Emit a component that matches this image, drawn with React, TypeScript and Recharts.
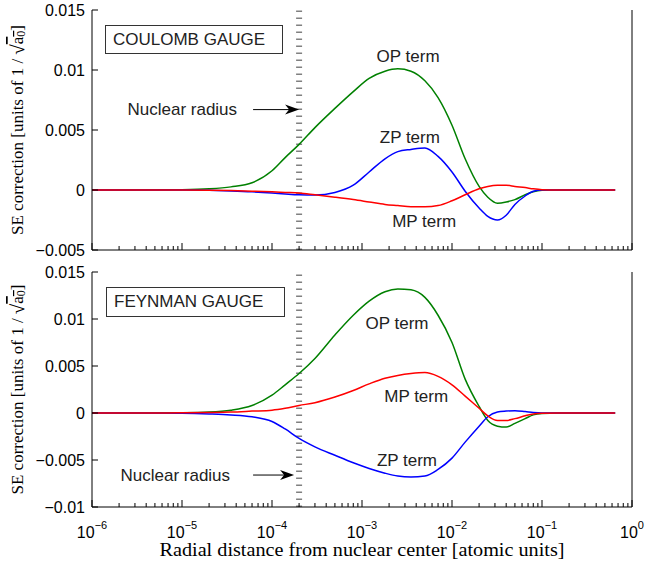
import React from 'react';
import { LineChart, Line, XAxis, YAxis, ReferenceLine, ReferenceDot } from 'recharts';

const FONT = '"Liberation Sans", Arial, Helvetica, sans-serif';
const SERIF = '"Liberation Serif", "Times New Roman", serif';

// radial distance in atomic units (shared grid for every curve)
const radius = [
  1e-6, 3e-6, 1e-5, 2e-5, 3.5e-5, 6e-5, 1e-4, 1.4e-4, 2e-4, 3e-4, 5e-4, 8e-4, 1.2e-3, 1.8e-3, 2.5e-3,
  3.5e-3, 5e-3, 7e-3, 1e-2, 1.4e-2, 2e-2, 2.5e-2, 3.2e-2, 4e-2, 5e-2, 6.5e-2, 8e-2, 0.1, 0.15, 0.3, 0.65,
];

// Coulomb gauge
const coulombOP = [
  0, 0, 0.00003, 0.0001, 0.00026, 0.0006, 0.0016, 0.0027, 0.0038, 0.0052, 0.0068, 0.0082, 0.0093, 0.0099, 0.0101,
  0.0099, 0.0091, 0.0077, 0.0054, 0.0026, 0.0003, -0.0006, -0.0011, -0.001, -0.0008, -0.0004, -0.00015, -0.00003, 0, 0, 0,
];
const coulombZP = [
  0, 0, 0, -0.00003, -0.00008, -0.00015, -0.00025, -0.00033, -0.0004, -0.00042, -0.0002, 0.0004, 0.0015, 0.0026, 0.0032,
  0.00338, 0.0035, 0.0028, 0.0015, -0.0001, -0.0015, -0.0022, -0.0025, -0.0021, -0.0012, -0.0005, -0.0001, 0, 0, 0, 0,
];
const coulombMP = [
  0, 0, 0, -0.00002, -0.00005, -0.0001, -0.00015, -0.0002, -0.00025, -0.0004, -0.0006, -0.0008, -0.001, -0.0012, -0.0013,
  -0.0014, -0.0014, -0.0013, -0.0009, -0.0004, 0.0001, 0.0003, 0.0004, 0.0004, 0.0003, 0.0002, 0.0001, 0.00003, 0, 0, 0,
];

// Feynman gauge
const feynmanOP = [
  0, 0, 0.00003, 0.0001, 0.0003, 0.0008, 0.0019, 0.003, 0.0042, 0.0058, 0.0083, 0.0104, 0.0119, 0.0129, 0.0132,
  0.0131, 0.0123, 0.0104, 0.0075, 0.0036, 0.0007, -0.0008, -0.0014, -0.0015, -0.0011, -0.0006, -0.0002, -0.00005, 0, 0, 0,
];
const feynmanZP = [
  0, 0, -0.00003, -0.0001, -0.0002, -0.0004, -0.0009, -0.0017, -0.0027, -0.0036, -0.0045, -0.0053, -0.0059, -0.0064, -0.0067,
  -0.0068, -0.0067, -0.006, -0.0048, -0.0031, -0.0014, -0.0004, 0.0001, 0.0002, 0.00025, 0.00015, 0.00005, 0, 0, 0, 0,
];
const feynmanMP = [
  0, 0, 0.00002, 0.00005, 0.0001, 0.0002, 0.0003, 0.0005, 0.0008, 0.0011, 0.0017, 0.0024, 0.0031, 0.0037, 0.004,
  0.0042, 0.0043, 0.0039, 0.003, 0.0018, 0.0005, -0.0003, -0.0008, -0.0008, -0.0006, -0.0003, -0.0001, -0.00003, 0, 0, 0,
];

const nuclearRadius = 2e-4;

const decades = [1e-6, 1e-5, 1e-4, 1e-3, 1e-2, 1e-1, 1];
const decadeExps = ['−6', '−5', '−4', '−3', '−2', '−1', '0'];
const minorTicks = decades.slice(0, -1).flatMap((d) => [2, 3, 4, 5, 6, 7, 8, 9].map((m) => m * d));
const xTicks = [...decades, ...minorTicks];

const coulombYTicks = [-0.005, 0, 0.005, 0.01, 0.015];
const coulombYLabels = ['−0.005', '0', '0.005', '0.01', '0.015'];
const feynmanYTicks = [-0.01, -0.005, 0, 0.005, 0.01, 0.015];
const feynmanYLabels = ['−0.01', '−0.005', '0', '0.005', '0.01', '0.015'];

const decadeIndex = (v: number) => decades.findIndex((d) => Math.abs(v / d - 1) < 1e-6);

function XTick(props: any) {
  const { x, y, payload, showLabel, top } = props;
  const idx = decadeIndex(payload.value);
  const len = idx >= 0 ? 7 : 4;
  return (
    <g>
      <line x1={x} x2={x} y1={y} y2={top ? y + len : y - len} stroke="#000" />
      {showLabel && idx >= 0 && (
        <text x={x} y={y + 31} textAnchor="middle" fontFamily={FONT} fontSize={16} fill="#000">
          10
          <tspan dy={-9} fontSize={11}>
            {decadeExps[idx]}
          </tspan>
        </text>
      )}
    </g>
  );
}

function YTick(props: any) {
  const { x, y, payload, labels, ticks, right } = props;
  const i = ticks.indexOf(payload.value);
  return (
    <g>
      <line x1={x} x2={right ? x - 6 : x + 6} y1={y} y2={y} stroke="#000" />
      {!right && (
        <text x={x - 7} y={y} textAnchor="end" dominantBaseline="central" fontFamily={FONT} fontSize={16} fill="#000">
          {labels[i]}
        </text>
      )}
    </g>
  );
}

const yLabel = (p: any) => {
  const vb = p.viewBox;
  const cx = vb.x + 17;
  const cy = vb.y + vb.height / 2;
  return (
    <text x={cx} y={cy} transform={`rotate(-90 ${cx} ${cy})`} textAnchor="middle" dominantBaseline="central"
      fontFamily={SERIF} fontSize={17} fill="#000">
      SE correction [units of 1 / <tspan fontSize={19}>√</tspan>
      <tspan style={{ textDecoration: 'overline' }}>
        a<tspan dy={4} fontSize={12}>0</tspan>
      </tspan>
      <tspan dy={-4}>]</tspan>
    </text>
  );
};

const xLabel = (p: any) => {
  const vb = p.viewBox;
  return (
    <text x={vb.x + vb.width / 2} y={vb.y + 49} textAnchor="middle" fontFamily={SERIF} fontSize={18}
      textLength={405} lengthAdjust="spacingAndGlyphs" fill="#000">
      Radial distance from nuclear center [atomic units]
    </text>
  );
};

const termText = (text: string) => (p: any) => (
  <text x={p.cx} y={p.cy} textAnchor="middle" dominantBaseline="central" fontFamily={FONT} fontSize={17} fill="#222">
    {text}
  </text>
);

const radiusArrow = (textGap: number, tipGap: number) => (p: any) => (
  <g>
    <text x={p.cx - textGap} y={p.cy} textAnchor="end" dominantBaseline="central" fontFamily={FONT} fontSize={17} fill="#222">
      Nuclear radius
    </text>
    <line x1={p.cx - 46} x2={p.cx - tipGap - 8} y1={p.cy} y2={p.cy} stroke="#000" strokeWidth={1} />
    <polygon
      points={`${p.cx - tipGap},${p.cy} ${p.cx - tipGap - 14},${p.cy - 5} ${p.cx - tipGap - 10},${p.cy} ${p.cx - tipGap - 14},${p.cy + 5}`}
      fill="#000"
    />
  </g>
);

interface TermLabel {
  text: string;
  r: number;
  v: number;
}

interface PanelProps {
  op: number[];
  zp: number[];
  mp: number[];
  yDomain: [number, number];
  yTicks: number[];
  yLabels: string[];
  height: number;
  bottomAxisHeight: number;
  showXLabels: boolean;
  terms: TermLabel[];
  arrowV: number;
  arrowTextGap: number;
  arrowTipGap: number;
}

function GaugePanel(props: PanelProps) {
  const { op, zp, mp, yDomain, yTicks, yLabels, height, bottomAxisHeight, showXLabels, terms } = props;
  const data = radius.map((r, i) => ({ r, op: op[i], zp: zp[i], mp: mp[i] }));
  return (
    <LineChart width={648} height={height} data={data} margin={{ top: 10, right: 0, bottom: 0, left: 0 }}>
      <XAxis
        xAxisId="b"
        dataKey="r"
        type="number"
        scale="log"
        domain={[1e-6, 1]}
        allowDataOverflow
        ticks={xTicks}
        interval={0}
        height={bottomAxisHeight}
        tickSize={0}
        tickMargin={0}
        tickLine={false}
        axisLine={{ stroke: '#000' }}
        tick={(p: any) => <XTick {...p} showLabel={showXLabels} />}
        label={showXLabels ? xLabel : undefined}
      />
      <XAxis
        xAxisId="t"
        orientation="top"
        dataKey="r"
        type="number"
        scale="log"
        domain={[1e-6, 1]}
        allowDataOverflow
        ticks={xTicks}
        interval={0}
        height={0}
        tickSize={0}
        tickMargin={0}
        tickLine={false}
        axisLine={{ stroke: '#000' }}
        tick={(p: any) => <XTick {...p} top />}
      />
      <YAxis
        yAxisId="l"
        type="number"
        domain={yDomain}
        ticks={yTicks}
        interval={0}
        width={92}
        tickSize={0}
        tickMargin={0}
        tickLine={false}
        axisLine={{ stroke: '#000' }}
        tick={(p: any) => <YTick {...p} ticks={yTicks} labels={yLabels} />}
        label={yLabel}
      />
      <YAxis
        yAxisId="r"
        orientation="right"
        type="number"
        domain={yDomain}
        ticks={yTicks}
        interval={0}
        width={16}
        tickSize={0}
        tickMargin={0}
        tickLine={false}
        axisLine={{ stroke: '#000' }}
        tick={(p: any) => <YTick {...p} ticks={yTicks} labels={yLabels} right />}
      />
      <ReferenceLine xAxisId="b" yAxisId="l" x={nuclearRadius} stroke="#808080" strokeWidth={6} strokeDasharray="1.5 5.5" />
      <Line xAxisId="b" yAxisId="l" dataKey="op" type="monotone" stroke="#008000" strokeWidth={1.5} dot={false} isAnimationActive={false} />
      <Line xAxisId="b" yAxisId="l" dataKey="zp" type="monotone" stroke="#0000ff" strokeWidth={1.5} dot={false} isAnimationActive={false} />
      <Line xAxisId="b" yAxisId="l" dataKey="mp" type="monotone" stroke="#ff0000" strokeWidth={1.5} dot={false} isAnimationActive={false} />
      {terms.map((t) => (
        <ReferenceDot key={t.text} xAxisId="b" yAxisId="l" x={t.r} y={t.v} r={1} shape={termText(t.text)} />
      ))}
      <ReferenceDot xAxisId="b" yAxisId="l" x={nuclearRadius} y={props.arrowV} r={1}
        shape={radiusArrow(props.arrowTextGap, props.arrowTipGap)} />
    </LineChart>
  );
}

function TitleBox({ text, left, top, width, height }: { text: string; left: number; top: number; width: number; height: number }) {
  return (
    <div
      style={{
        position: 'absolute', left, top, width, height, boxSizing: 'border-box', border: '1px solid #333',
        background: '#fff', fontFamily: FONT, fontSize: 17, color: '#222', lineHeight: `${height - 2}px`, paddingLeft: 7,
      }}
    >
      {text}
    </div>
  );
}

export default function App() {
  return (
    <div style={{ position: 'absolute', left: 0, top: 0, width: 648, height: 565, background: '#fff' }}>
      <div style={{ position: 'absolute', left: 0, top: 0 }}>
        <GaugePanel
          op={coulombOP}
          zp={coulombZP}
          mp={coulombMP}
          yDomain={[-0.005, 0.015]}
          yTicks={coulombYTicks}
          yLabels={coulombYLabels}
          height={262}
          bottomAxisHeight={12}
          showXLabels={false}
          terms={[
            { text: 'OP term', r: 3.25e-3, v: 0.0111 },
            { text: 'ZP term', r: 3.4e-3, v: 0.0044 },
            { text: 'MP term', r: 4.9e-3, v: -0.0026 },
          ]}
          arrowV={0.0067}
          arrowTextGap={62}
          arrowTipGap={0}
        />
      </div>
      <div style={{ position: 'absolute', left: 0, top: 262 }}>
        <GaugePanel
          op={feynmanOP}
          zp={feynmanZP}
          mp={feynmanMP}
          yDomain={[-0.01, 0.015]}
          yTicks={feynmanYTicks}
          yLabels={feynmanYLabels}
          height={303}
          bottomAxisHeight={58}
          showXLabels
          terms={[
            { text: 'OP term', r: 2.45e-3, v: 0.0095 },
            { text: 'MP term', r: 4e-3, v: 0.0018 },
            { text: 'ZP term', r: 3.16e-3, v: -0.005 },
          ]}
          arrowV={-0.0066}
          arrowTextGap={69}
          arrowTipGap={5}
        />
      </div>
      <TitleBox text="COULOMB GAUGE" left={105} top={25} width={178} height={29} />
      <TitleBox text="FEYNMAN GAUGE" left={106} top={287} width={179} height={30} />
    </div>
  );
}
